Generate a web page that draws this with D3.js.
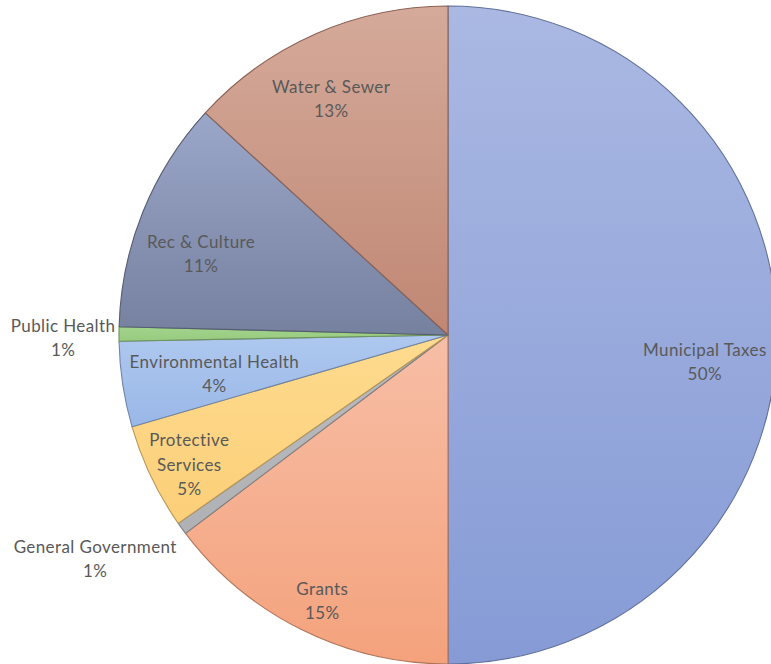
<!DOCTYPE html>
<html>
<head>
<meta charset="utf-8">
<script src="https://cdn.jsdelivr.net/npm/d3@7"></script>
<style>
  html, body { margin: 0; padding: 0; background: #ffffff; }
  svg { display: block; }
</style>
</head>
<body>
<svg id="chart" width="771" height="664"></svg>
<script>
// Revenue sources, share of total (%), clockwise from 12 o'clock
const categories = [
  "Municipal Taxes", "Grants", "General Government", "Protective Services",
  "Environmental Health", "Public Health", "Rec & Culture", "Water & Sewer"
];
const shares = [50.0, 14.7, 0.6, 5.2, 4.2, 0.7, 11.4, 13.2];

// Slice fill: light (top) and dark (bottom) stop of each vertical gradient
const fillTop    = ["#aab8e2", "#f7bea6", "#babcc0", "#fedb8f", "#aec8ef", "#a3d38c", "#9ba7c9", "#d5aa9a"];
const fillBottom = ["#869bd6", "#f4a27c", "#afb1b5", "#fccf78", "#99b7e7", "#97cb7f", "#76809f", "#c08774"];

// Label placement: radius as a fraction of the pie radius, angular nudge in degrees,
// and whether the label sits outside the pie
const labelLayout = {
  "Municipal Taxes":      { r: 0.785, da:  6.0, lines: ["Municipal Taxes"] },
  "Grants":               { r: 0.895, da: -1.2, lines: ["Grants"] },
  "General Government":   { r: 1.27,  da:  3.6, lines: ["General Government"], outside: true },
  "Protective Services":  { r: 0.88,  da: -1.1, lines: ["Protective", "Services"] },
  "Environmental Health": { r: 0.72,  da: -0.9, lines: ["Environmental Health"] },
  "Public Health":        { r: 1.17,  da: -0.6, lines: ["Public Health"], outside: true },
  "Rec & Culture":        { r: 0.79,  da: -3.8, lines: ["Rec & Culture"] },
  "Water & Sewer":        { r: 0.80,  da: -2.6, lines: ["Water & Sewer"] }
};

const data = categories.map((name, i) => ({ name, value: shares[i], i }));

const svg = d3.select("#chart");
const cx = 448, cy = 335, R = 329;
const lineGap = 24.5;

const defs = svg.append("defs");
data.forEach(d => {
  const g = defs.append("linearGradient")
    .attr("id", "grad" + d.i)
    .attr("x1", 0).attr("y1", 0).attr("x2", 0).attr("y2", 1);
  g.append("stop").attr("offset", "0%").attr("stop-color", fillTop[d.i]);
  g.append("stop").attr("offset", "100%").attr("stop-color", fillBottom[d.i]);
});

const pie = d3.pie().value(d => d.value).sort(null);
const arc = d3.arc().innerRadius(0).outerRadius(R);
const arcs = pie(data);

const g = svg.append("g").attr("transform", `translate(${cx},${cy})`);

g.selectAll("path.slice")
  .data(arcs)
  .join("path")
  .attr("class", "slice")
  .attr("d", arc)
  .attr("fill", d => `url(#grad${d.data.i})`)
  .attr("stroke", d => d3.color(fillBottom[d.data.i]).darker(0.9))
  .attr("stroke-width", 1.1)
  .attr("stroke-linejoin", "round");

const pct = d3.format(".0f");
g.selectAll("text.label")
  .data(arcs)
  .join("text")
  .attr("class", "label")
  .attr("text-anchor", "middle")
  .attr("font-family", "Lato, 'Open Sans', sans-serif")
  .attr("font-size", 17)
  .attr("letter-spacing", 0.4)
  .attr("fill", "#595959")
  .each(function(d) {
    const L = labelLayout[d.data.name];
    const mid = (d.startAngle + d.endAngle) / 2 + L.da * Math.PI / 180;
    const rr = L.r * R;
    const x = Math.sin(mid) * rr;
    const y = -Math.cos(mid) * rr;
    const lines = L.lines.concat([pct(d.data.value) + "%"]);
    const top = y - (lines.length - 1) * lineGap / 2;
    const t = d3.select(this);
    lines.forEach((s, k) => {
      t.append("tspan")
        .attr("x", x)
        .attr("y", top + k * lineGap)
        .attr("dy", "0.35em")
        .text(s);
    });
  });
</script>
</body>
</html>
